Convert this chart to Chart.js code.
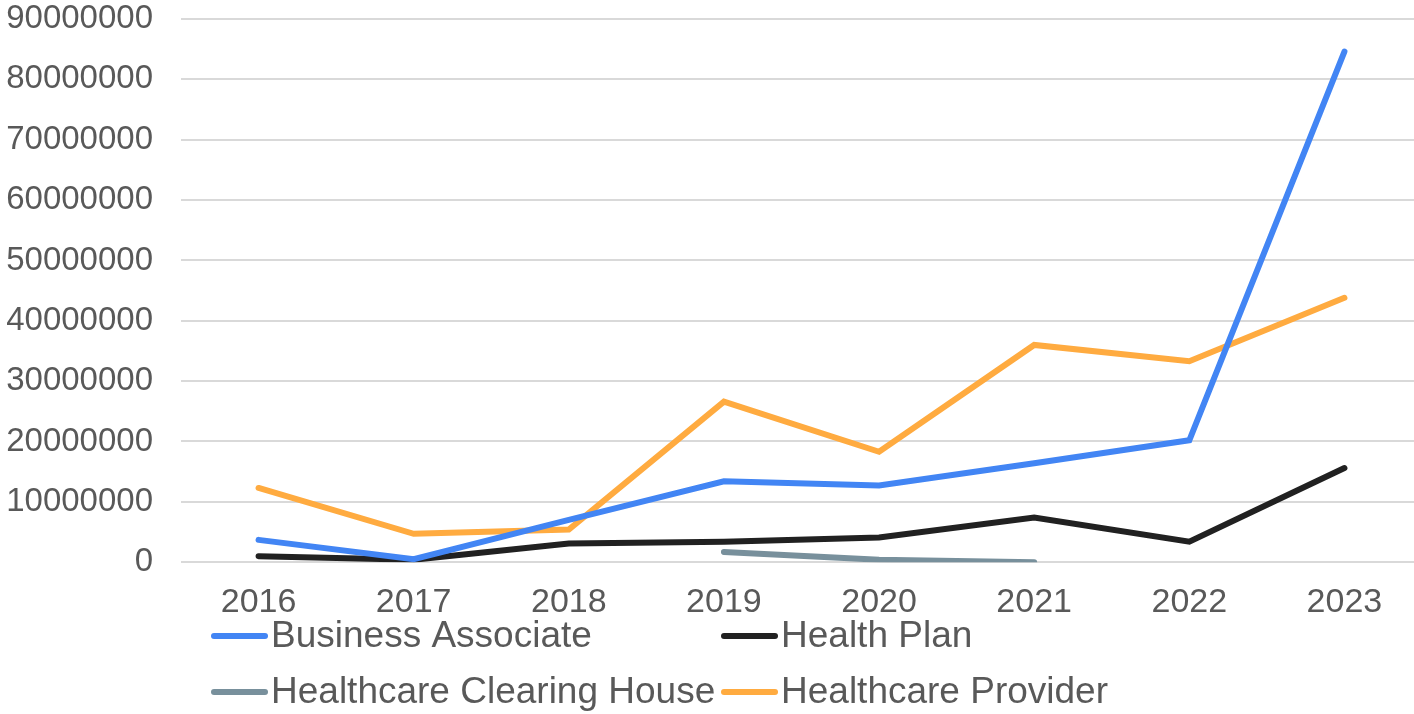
<!DOCTYPE html>
<html>
<head>
<meta charset="utf-8">
<script src="https://cdn.jsdelivr.net/npm/chart.js@4"></script>
<style>
  html, body { margin: 0; padding: 0; background: #ffffff; overflow: hidden; }
  #wrap { position: relative; width: 1422px; height: 714px; }
</style>
</head>
<body>
<div id="wrap"><canvas id="c"></canvas></div>
<script>
const categories = ["2016", "2017", "2018", "2019", "2020", "2021", "2022", "2023"];
const businessAssociate = [3700000, 500000, 7000000, 13400000, 12700000, 16400000, 20200000, 84600000];
const healthPlan = [1000000, 400000, 3100000, 3400000, 4100000, 7400000, 3400000, 15600000];
const clearingHouse = [null, null, null, 1700000, 400000, 0, null, null];
const healthcareProvider = [12300000, 4700000, 5400000, 26600000, 18300000, 36000000, 33300000, 43800000];
const seriesNames = ["Business Associate", "Health Plan", "Healthcare Clearing House", "Healthcare Provider"];
const seriesColors = ["#4285F4", "#212121", "#78909C", "#FFAB40"];
const yTicks = { min: 0, max: 90000000, step: 10000000 };

const FONT = "'Liberation Sans', Arial, sans-serif";
const TEXT = "#595959";

const gridLegend = {
  id: "gridLegend",
  afterDraw(chart) {
    const ctx = chart.ctx;
    const colX = [212, 722];
    const rowY = [636, 692];
    ctx.save();
    ctx.font = "37px " + FONT;
    ctx.textBaseline = "middle";
    ctx.textAlign = "left";
    chart.data.datasets.forEach((ds, i) => {
      const x = colX[i % 2];
      const y = rowY[Math.floor(i / 2)];
      ctx.strokeStyle = ds.borderColor;
      ctx.lineWidth = 6;
      ctx.lineCap = "round";
      ctx.beginPath();
      ctx.moveTo(x + 2, y);
      ctx.lineTo(x + 53, y);
      ctx.stroke();
      ctx.fillStyle = TEXT;
      ctx.fillText(ds.label, x + 59, y + 1);
    });
    ctx.restore();
  }
};

const seriesData = [businessAssociate, healthPlan, clearingHouse, healthcareProvider];

new Chart(document.getElementById("c"), {
  type: "line",
  data: {
    labels: categories,
    datasets: seriesData.map((d, i) => ({
      label: seriesNames[i],
      data: d,
      borderColor: seriesColors[i],
      backgroundColor: seriesColors[i],
      borderWidth: 6,
      borderCapStyle: "round",
      borderJoinStyle: "miter",
      pointRadius: 0,
      pointHoverRadius: 0,
      tension: 0,
      spanGaps: false,
      fill: false
    }))
  },
  options: {
    responsive: true,
    maintainAspectRatio: false,
    animation: false,
    layout: { padding: { top: 19, right: 0, bottom: 71, left: 0 } },
    plugins: {
      legend: { display: false },
      tooltip: { enabled: false }
    },
    scales: {
      x: {
        offset: true,
        grid: { display: false, drawTicks: false },
        border: { display: false },
        ticks: {
          color: TEXT,
          font: { family: FONT, size: 34 },
          padding: 20,
          maxRotation: 0
        }
      },
      y: {
        min: yTicks.min,
        max: yTicks.max,
        grid: { color: "#d9d9d9", lineWidth: 2, drawTicks: false },
        border: { display: false },
        ticks: {
          stepSize: yTicks.step,
          color: TEXT,
          font: { family: FONT, size: 33 },
          padding: 28,
          callback: v => String(v)
        },
        afterFit(scale) {
          scale.width = 181;
          scale.paddingTop = 0;
          scale.paddingBottom = 0;
        }
      }
    }
  },
  plugins: [gridLegend]
});
</script>
</body>
</html>
